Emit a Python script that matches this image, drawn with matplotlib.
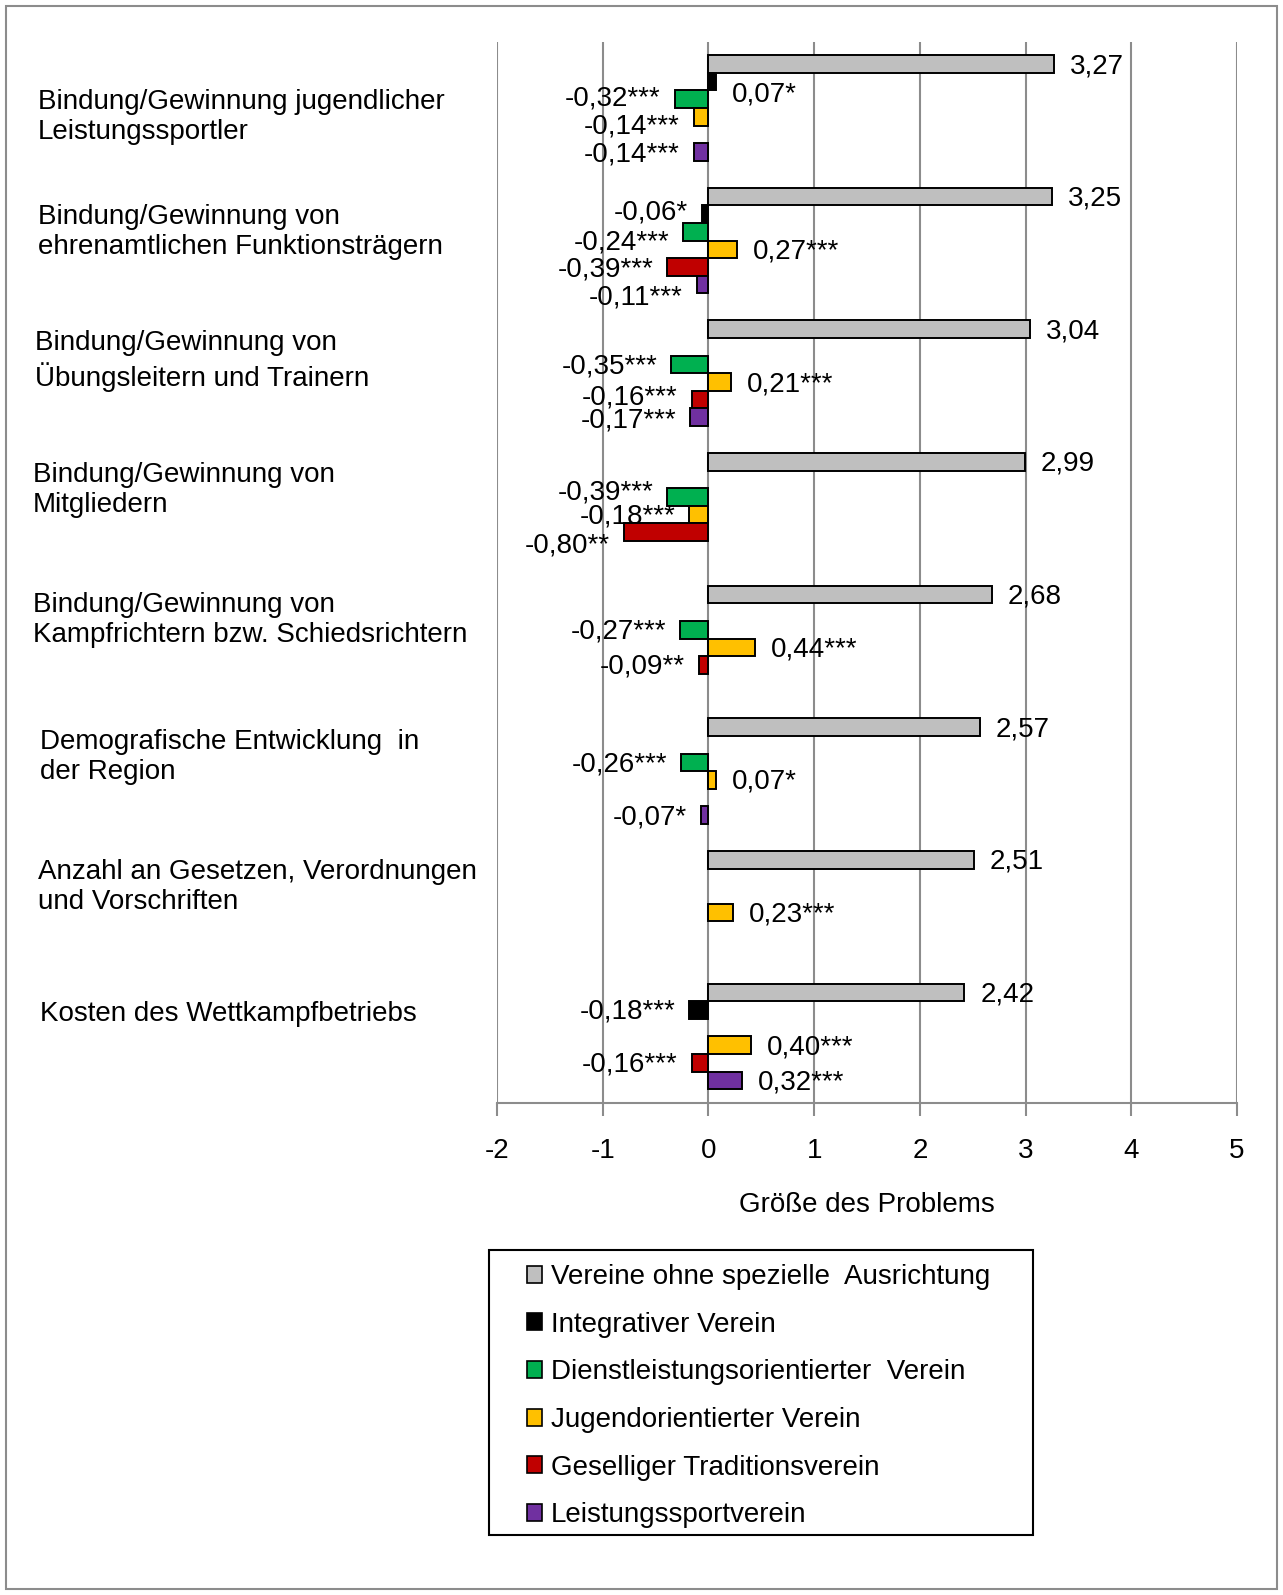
import matplotlib
matplotlib.use("Agg")
import matplotlib.pyplot as plt
from matplotlib.patches import Rectangle
import numpy as np

plt.rcParams['font.family'] = ['Liberation Sans', 'DejaVu Sans']

categories = [
    "Bindung/Gewinnung jugendlicher\nLeistungssportler",
    "Bindung/Gewinnung von\nehrenamtlichen Funktionsträgern",
    "Bindung/Gewinnung von\nÜbungsleitern und Trainern",
    "Bindung/Gewinnung von\nMitgliedern",
    "Bindung/Gewinnung von\nKampfrichtern bzw. Schiedsrichtern",
    "Demografische Entwicklung  in\nder Region",
    "Anzahl an Gesetzen, Verordnungen\nund Vorschriften",
    "Kosten des Wettkampfbetriebs",
]

series_names = [
    "Vereine ohne spezielle  Ausrichtung",
    "Integrativer Verein",
    "Dienstleistungsorientierter  Verein",
    "Jugendorientierter Verein",
    "Geselliger Traditionsverein",
    "Leistungssportverein",
]
colors = ["#BFBFBF", "#000000", "#00B050", "#FFC000", "#C00000", "#7030A0"]

nan = np.nan
ohne = [3.27, 3.25, 3.04, 2.99, 2.68, 2.57, 2.51, 2.42]
integrativ = [0.07, -0.06, nan, nan, nan, nan, nan, -0.18]
dienst = [-0.32, -0.24, -0.35, -0.39, -0.27, -0.26, nan, nan]
jugend = [-0.14, 0.27, 0.21, -0.18, 0.44, 0.07, 0.23, 0.40]
gesellig = [nan, -0.39, -0.16, -0.80, -0.09, nan, nan, -0.16]
leistung = [-0.14, -0.11, -0.17, nan, nan, -0.07, nan, 0.32]

stars_ohne = ["", "", "", "", "", "", "", ""]
stars_integrativ = ["*", "*", "", "", "", "", "", "***"]
stars_dienst = ["***", "***", "***", "***", "***", "***", "", ""]
stars_jugend = ["***", "***", "***", "***", "***", "*", "***", "***"]
stars_gesellig = ["", "***", "***", "**", "**", "", "", "***"]
stars_leistung = ["***", "***", "***", "", "", "*", "", "***"]

all_values = [ohne, integrativ, dienst, jugend, gesellig, leistung]
all_stars = [stars_ohne, stars_integrativ, stars_dienst, stars_jugend,
             stars_gesellig, stars_leistung]

# vertical nudges of some value labels (pixels, down is positive), like Excel placed them
nudge = {(1, 0): 11, (2, 0): -3, (3, 0): 8, (1, 1): -4, (2, 1): 9, (5, 1): 11,
         (2, 3): -7, (4, 3): 11, (4, 2): -4, (5, 2): 1}

W, H = 1283, 1595
fig = plt.figure(figsize=(W / 100, H / 100), dpi=100)
fig.patches.append(Rectangle((6 / W, 6 / H), 1271 / W, 1583 / H, transform=fig.transFigure,
                             fill=False, edgecolor="#8C8C8C", linewidth=1.5))

ax = fig.add_axes([497 / W, 1 - 1103 / H, 740 / W, 1061 / H])

bar_h = 0.1327
first = 0.166
px = 740 / 7.0   # pixels per unit on x
py = 1061 / 8.0  # pixels per category on y
fs = 20

for j, (vals, st) in enumerate(zip(all_values, all_stars)):
    for i, v in enumerate(vals):
        if np.isnan(v):
            continue
        y = i + first + j * bar_h
        ax.barh(y, v, height=bar_h, color=colors[j], edgecolor="black", linewidth=1.4, zorder=3)
        txt = ("%.2f" % v).replace(".", ",") + st[i]
        ty = y + (2 + nudge.get((j, i), 0)) / py
        if v >= 0:
            ax.text(v + 16 / px, ty, txt, ha="left", va="center", fontsize=fs, zorder=4)
        else:
            ax.text(v - 14 / px, ty, txt, ha="right", va="center", fontsize=fs, zorder=4)

ax.set_xlim(-2, 5)
ax.set_ylim(len(categories), 0)
ax.set_xticks(range(-2, 6))
ax.set_xticklabels([str(t) for t in range(-2, 6)], fontsize=fs)
ax.set_yticks([])
ax.grid(axis="x", color="#8C8C8C", linewidth=1.5, zorder=0)
ax.set_axisbelow(True)
for s in ["top", "right", "left"]:
    ax.spines[s].set_visible(False)
ax.spines["bottom"].set_color("#8C8C8C")
ax.spines["bottom"].set_linewidth(1.5)
ax.tick_params(axis="x", direction="out", length=9, width=1.5, color="#8C8C8C", pad=16)
ax.set_xlabel("Größe des Problems", fontsize=fs, labelpad=20)

# category labels on the left
label_pos = [(38, 117), (38, 232), (35, 361), (33, 490), (33, 620), (40, 757), (38, 887), (40, 1014)]
for lab, (lx, ly) in zip(categories, label_pos):
    fig.text(lx / W, 1 - ly / H, lab, ha="left", va="center", fontsize=fs, linespacing=1.22)

# legend with a separate frame
fig.patches.append(Rectangle((489 / W, 1 - 1535 / H), 544 / W, 285 / H, transform=fig.transFigure,
                             fill=False, edgecolor="black", linewidth=1.5))
handles = [Rectangle((0, 0), 1, 1, facecolor=c, edgecolor="black", linewidth=1.2) for c in colors]
leg = fig.legend(handles, series_names, loc="upper left",
                 bbox_to_anchor=(527 / W, 1 - 1264 / H), fontsize=fs,
                 frameon=False, handlelength=0.55, handleheight=0.55, handletextpad=0.3,
                 labelspacing=0.78, borderpad=0, borderaxespad=0)

fig.savefig("out.png", dpi=100)
